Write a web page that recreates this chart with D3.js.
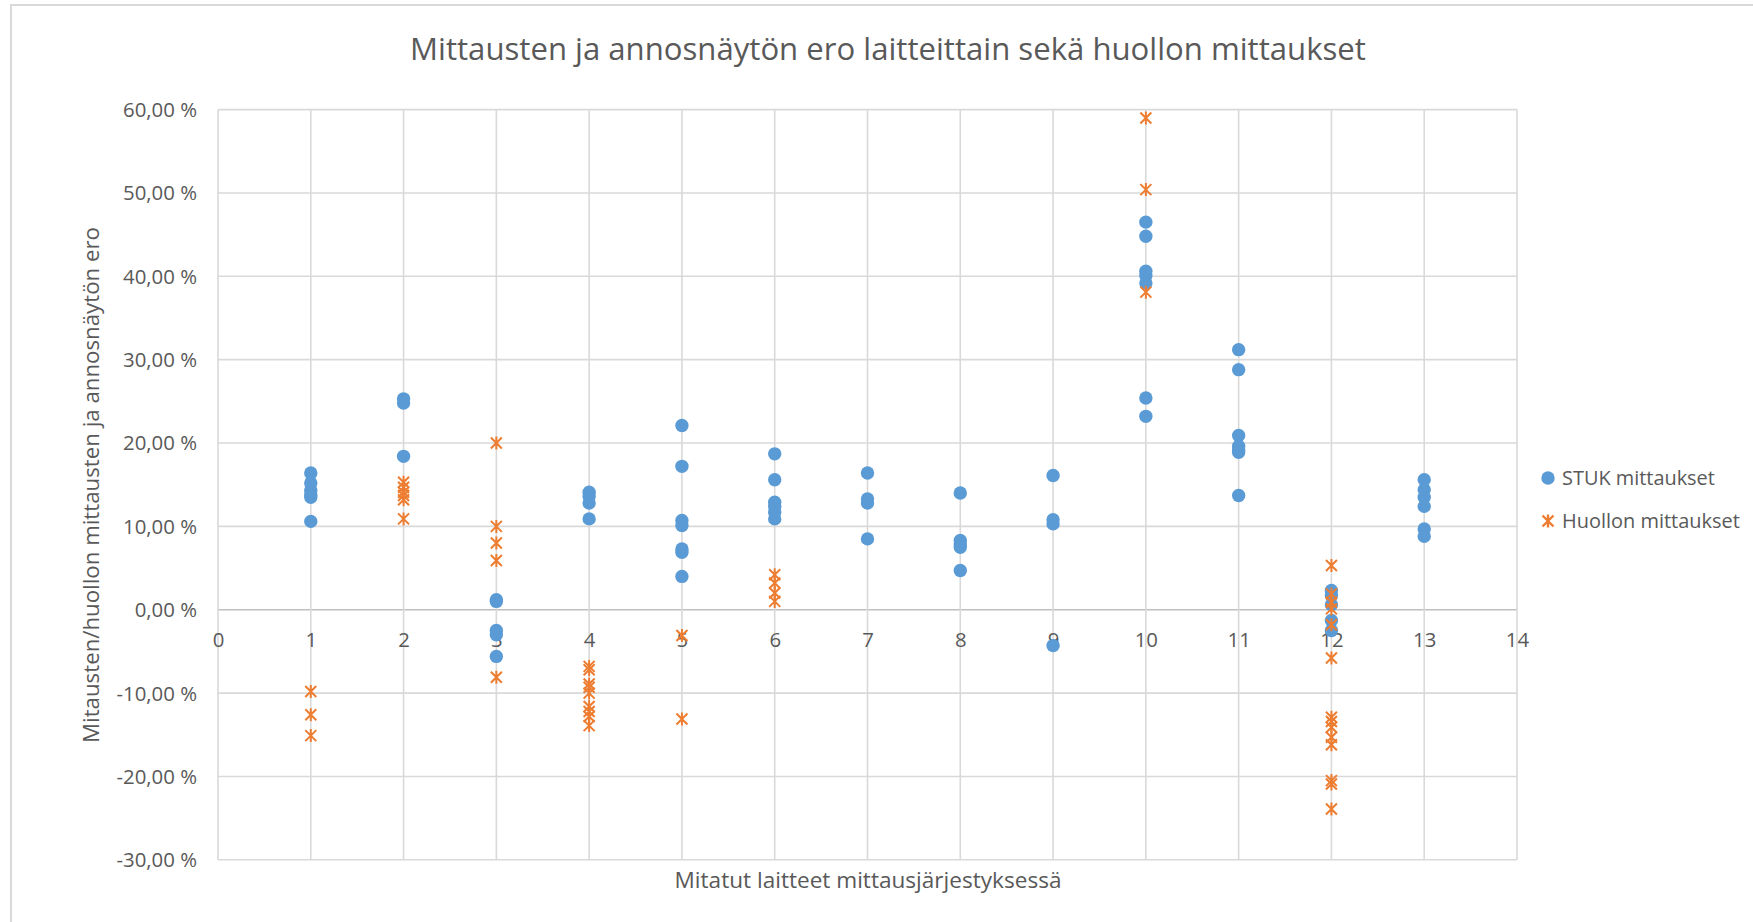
<!DOCTYPE html>
<html>
<head>
<meta charset="utf-8">
<script src="https://cdn.jsdelivr.net/npm/d3@7"></script>
<style>
  html, body { margin: 0; padding: 0; background: #ffffff; }
  svg { display: block; }
  text { font-family: "Open Sans", "Noto Sans", sans-serif; fill: #595959; }
</style>
</head>
<body>
<script>
// ---------------- DATA ----------------
const chartTitle = "Mittausten ja annosnäytön ero laitteittain sekä huollon mittaukset";
const xAxisTitle = "Mitatut laitteet mittausjärjestyksessä";
const yAxisTitle = "Mitausten/huollon mittausten ja annosnäytön ero";
const seriesNames = ["STUK mittaukset", "Huollon mittaukset"];

const devices = [1, 2, 3, 4, 5, 6, 7, 8, 9, 10, 11, 12, 13];

// STUK measurements (% difference) per device
const stukValues = [
  [16.4, 15.2, 14.3, 13.8, 13.5, 10.6],
  [25.3, 24.8, 18.4],
  [1.2, 1.0, -2.5, -3.0, -5.6],
  [14.1, 13.6, 12.8, 10.9],
  [22.1, 17.2, 10.7, 10.1, 7.3, 6.9, 4.0],
  [18.7, 15.6, 12.9, 12.4, 11.7, 10.9],
  [16.4, 13.3, 12.8, 8.5],
  [14.0, 8.3, 7.9, 7.5, 4.7],
  [16.1, 10.8, 10.3, -4.3],
  [46.5, 44.8, 40.6, 40.1, 39.2, 25.4, 23.2],
  [31.2, 28.8, 20.9, 19.6, 19.2, 18.9, 13.7],
  [2.3, 1.7, 0.6, -1.3, -2.5],
  [15.6, 14.4, 13.5, 12.4, 9.7, 8.8]
];

// Service (huolto) measurements (% difference) per device
const huoltoValues = [
  [-9.8, -12.6, -15.1],
  [15.3, 14.7, 14.1, 13.7, 13.2, 10.9],
  [20.0, 10.0, 8.0, 5.9, -8.1],
  [-6.8, -7.2, -8.9, -9.3, -10.0, -11.6, -12.2, -12.8, -13.9],
  [-3.1, -13.1],
  [4.2, 3.2, 2.0, 1.0],
  [],
  [],
  [],
  [59.0, 50.4, 38.1],
  [],
  [5.3, 1.9, 0.9, 0.1, -1.8, -5.8, -12.9, -13.4, -14.1, -15.3, -16.2, -20.5, -20.9, -23.9],
  []
];

const xTicks = [0, 1, 2, 3, 4, 5, 6, 7, 8, 9, 10, 11, 12, 13, 14];
const yTicks = [-30, -20, -10, 0, 10, 20, 30, 40, 50, 60];

// ---------------- LAYOUT ----------------
const W = 1753, H = 922;
const plot = { left: 218, right: 1517, top: 109.6, bottom: 859.8 };
const blue = "#5B9BD5", orange = "#ED7D31";
const gridColor = "#d9d9d9";

const svg = d3.select("body").append("svg").attr("width", W).attr("height", H);

// outer chart frame
svg.append("rect").attr("x", 11).attr("y", 5).attr("width", W + 20).attr("height", H + 20)
  .attr("fill", "none").attr("stroke", "#d9d9d9").attr("stroke-width", 2);

const x = d3.scaleLinear().domain([0, 14]).range([plot.left, plot.right]);
const y = d3.scaleLinear().domain([-30, 60]).range([plot.bottom, plot.top]);

const fiLocale = d3.formatLocale({ decimal: ",", thousands: " ", grouping: [3], currency: ["", " €"], minus: "-" });
const fmt = fiLocale.format(".2f");

// fit helper: scale font-size so the text matches a target width
function fitWidth(sel, target) {
  const node = sel.node();
  const base = parseFloat(sel.attr("font-size"));
  const len = node.getComputedTextLength();
  sel.attr("font-size", (base * target / len).toFixed(2));
}

// gridlines
const g = svg.append("g");
g.selectAll(".hgrid").data(yTicks).join("line")
  .attr("x1", plot.left).attr("x2", plot.right)
  .attr("y1", d => y(d)).attr("y2", d => y(d))
  .attr("stroke", d => d === 0 ? "#bfbfbf" : gridColor).attr("stroke-width", 1.6);
g.selectAll(".vgrid").data(xTicks).join("line")
  .attr("x1", d => x(d)).attr("x2", d => x(d))
  .attr("y1", plot.top).attr("y2", plot.bottom)
  .attr("stroke", gridColor).attr("stroke-width", 1.6);

// Y axis labels via d3 axis
const yAxis = d3.axisLeft(y).tickValues(yTicks).tickSize(0).tickPadding(0)
  .tickFormat(d => fmt(d) + " %");
const yAxisG = svg.append("g").attr("transform", `translate(197,0)`).call(yAxis);
yAxisG.select(".domain").remove();
yAxisG.selectAll("text").attr("font-size", 19).attr("fill", "#595959")
  .attr("font-family", "'Open Sans', sans-serif").attr("dy", "0.34em").attr("x", 0);
{
  const t = yAxisG.selectAll("text").filter(d => d === 60);
  const len = t.node().getComputedTextLength();
  const fs = 19 * 74 / len;
  yAxisG.selectAll("text").attr("font-size", fs.toFixed(2));
}

// X axis labels at zero line
const xAxis = d3.axisBottom(x).tickValues(xTicks).tickSize(0).tickPadding(0).tickFormat(d3.format("d"));
const xAxisG = svg.append("g").attr("transform", `translate(0,${y(0)})`).call(xAxis);
xAxisG.select(".domain").remove();
xAxisG.selectAll("text").attr("font-size", yAxisG.select("text").attr("font-size"))
  .attr("fill", "#595959").attr("font-family", "'Open Sans', sans-serif")
  .attr("y", 30).attr("dy", "0.34em");

// Title
const title = svg.append("text").attr("x", 888).attr("y", 60).attr("text-anchor", "middle")
  .attr("font-size", 28).attr("fill", "#595959").text(chartTitle);
fitWidth(title, 956);

// X axis title
const xt = svg.append("text").attr("x", 868).attr("y", 888).attr("text-anchor", "middle")
  .attr("font-size", 20).attr("fill", "#595959").text(xAxisTitle);
fitWidth(xt, 387);

// Y axis title
const yt = svg.append("text").attr("transform", "translate(99,485) rotate(-90)")
  .attr("text-anchor", "middle").attr("font-size", 20).attr("fill", "#595959").text(yAxisTitle);
fitWidth(yt, 516);

// flatten data
const stukPts = [], huoltoPts = [];
devices.forEach((dv, i) => {
  stukValues[i].forEach(v => stukPts.push({ x: dv, v }));
  huoltoValues[i].forEach(v => huoltoPts.push({ x: dv, v }));
});

// star marker (Excel-style asterisk)
const s = 5.5;
const starPath = `M${-s},${-s}L${s},${s}M${-s},${s}L${s},${-s}M0,${-s - 1}L0,${s + 1}`;

// STUK markers (drawn first, Excel series order)
svg.append("g").selectAll("circle").data(stukPts).join("circle")
  .attr("cx", d => x(d.x)).attr("cy", d => y(d.v)).attr("r", 6.7).attr("fill", blue);

// Huollon markers (on top)
svg.append("g").selectAll("path").data(huoltoPts).join("path")
  .attr("transform", d => `translate(${x(d.x)},${y(d.v)})`)
  .attr("d", starPath).attr("fill", "none").attr("stroke", orange).attr("stroke-width", 2);

// Legend
const lg = svg.append("g");
lg.append("circle").attr("cx", 1548).attr("cy", 478).attr("r", 6.7).attr("fill", blue);
lg.append("path").attr("transform", "translate(1548,521)").attr("d", starPath)
  .attr("fill", "none").attr("stroke", orange).attr("stroke-width", 2.4);
const l1 = lg.append("text").attr("x", 1562).attr("y", 478).attr("dy", "0.35em")
  .attr("font-size", 18).attr("fill", "#595959").text(seriesNames[0]);
fitWidth(l1, 153);
const l2 = lg.append("text").attr("x", 1562).attr("y", 521).attr("dy", "0.35em")
  .attr("font-size", 18).attr("fill", "#595959").text(seriesNames[1]);
fitWidth(l2, 178);
</script>
</body>
</html>
